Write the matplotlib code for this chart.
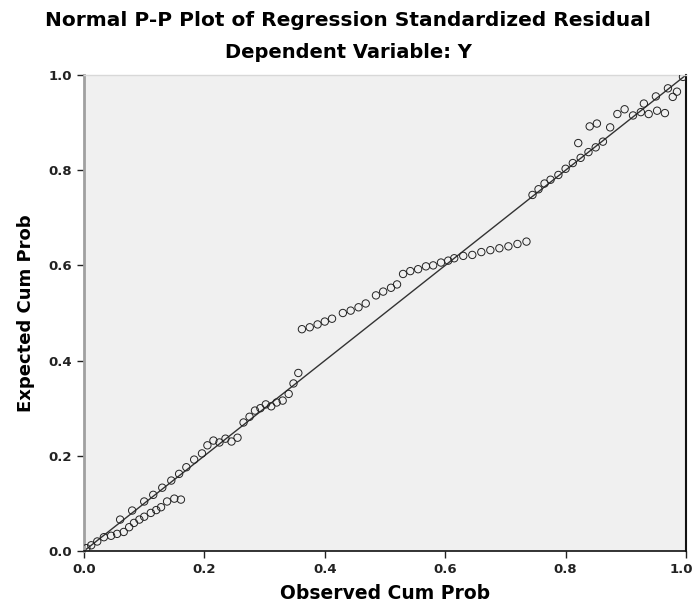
import matplotlib
matplotlib.use("Agg")
import matplotlib.pyplot as plt
import matplotlib.transforms as mtransforms

# Observed cumulative probability (x) and expected cumulative probability (y)
observed = [
    0.004, 0.012, 0.022, 0.033, 0.045, 0.055, 0.066, 0.075, 0.083, 0.092,
    0.100, 0.111, 0.120, 0.128, 0.138, 0.150, 0.161,
    0.060, 0.080, 0.100, 0.115, 0.130, 0.145, 0.158, 0.170, 0.183, 0.196,
    0.205, 0.215, 0.225, 0.235, 0.245, 0.255, 0.265, 0.275,
    0.284, 0.293, 0.302, 0.311, 0.320, 0.330, 0.340, 0.348, 0.356,
    0.362, 0.375, 0.388, 0.400, 0.412,
    0.430, 0.443, 0.456, 0.468,
    0.485, 0.497, 0.510, 0.520,
    0.530, 0.542, 0.555, 0.568, 0.580, 0.593, 0.605,
    0.615, 0.630, 0.645, 0.660, 0.675, 0.690, 0.705, 0.720, 0.735,
    0.745, 0.755, 0.765, 0.775, 0.788, 0.800, 0.812, 0.825, 0.838, 0.850, 0.862,
    0.821, 0.840, 0.852, 0.874, 0.886, 0.898, 0.912, 0.925, 0.938, 0.952,
    0.965, 0.978, 0.985, 0.930, 0.950, 0.970, 0.995,
]
expected = [
    0.006, 0.012, 0.020, 0.029, 0.032, 0.036, 0.040, 0.050, 0.059, 0.066,
    0.072, 0.080, 0.086, 0.092, 0.104, 0.110, 0.108,
    0.066, 0.085, 0.104, 0.118, 0.133, 0.148, 0.162, 0.176, 0.192, 0.205,
    0.222, 0.232, 0.228, 0.236, 0.230, 0.238, 0.270, 0.282,
    0.295, 0.300, 0.308, 0.304, 0.312, 0.316, 0.330, 0.352, 0.374,
    0.466, 0.470, 0.476, 0.482, 0.488,
    0.500, 0.505, 0.512, 0.520,
    0.537, 0.545, 0.553, 0.560,
    0.582, 0.588, 0.592, 0.598, 0.600, 0.606, 0.610,
    0.615, 0.620, 0.622, 0.628, 0.632, 0.636, 0.640, 0.645, 0.650,
    0.748, 0.760, 0.772, 0.780, 0.790, 0.803, 0.815, 0.826, 0.838, 0.848, 0.860,
    0.857, 0.892, 0.898, 0.890, 0.918, 0.928, 0.915, 0.922, 0.918, 0.925,
    0.920, 0.954, 0.965, 0.940, 0.955, 0.972, 0.996,
]
tick_values = [0.0, 0.2, 0.4, 0.6, 0.8, 1.0]
tick_labels = ["0.0", "0.2", "0.4", "0.6", "0.8", "1.0"]

fig = plt.figure(figsize=(6.96, 6.11), dpi=100)
ax = fig.add_axes([84 / 696, 60 / 611, 602 / 696, 476 / 611])
ax.set_facecolor("#f0f0f0")

ax.plot([0, 1], [0, 1], color="#333333", lw=1.0, zorder=2)
ax.scatter(observed, expected, s=28, facecolors="none", edgecolors="#222222",
           linewidths=0.7, zorder=3)

ax.set_xlim(0, 1)
ax.set_ylim(0, 1)
ax.set_xticks(tick_values)
ax.set_xticklabels(tick_labels)
ax.set_yticks(tick_values)
ax.set_yticklabels(tick_labels)
ax.tick_params(axis="both", direction="out", length=5, width=1, labelsize=9.5,
               colors="#222222")
for lab in ax.get_xticklabels() + ax.get_yticklabels():
    lab.set_fontweight("bold")
last = ax.get_xticklabels()[-1]
last.set_transform(last.get_transform() +
                   mtransforms.ScaledTranslation(-5 / 100, 0, fig.dpi_scale_trans))

ax.spines["left"].set_color("#a0a0a0")
ax.spines["left"].set_linewidth(2.0)
ax.spines["top"].set_color("#d8d8d8")
ax.spines["top"].set_linewidth(1.0)
ax.spines["right"].set_color("#111111")
ax.spines["right"].set_linewidth(1.5)
ax.spines["bottom"].set_color("#111111")
ax.spines["bottom"].set_linewidth(1.2)

ax.set_xlabel("Observed Cum Prob", fontsize=13.5, fontweight="bold", labelpad=6)
ax.set_ylabel("Expected Cum Prob", fontsize=13, fontweight="bold", labelpad=10)

fig.text(0.5, 1 - 20 / 611, "Normal P-P Plot of Regression Standardized Residual",
         ha="center", va="center", fontsize=14.5, fontweight="bold")
fig.text(0.5, 1 - 52 / 611, "Dependent Variable: Y",
         ha="center", va="center", fontsize=14, fontweight="bold")

fig.savefig("out.png", dpi=100)
